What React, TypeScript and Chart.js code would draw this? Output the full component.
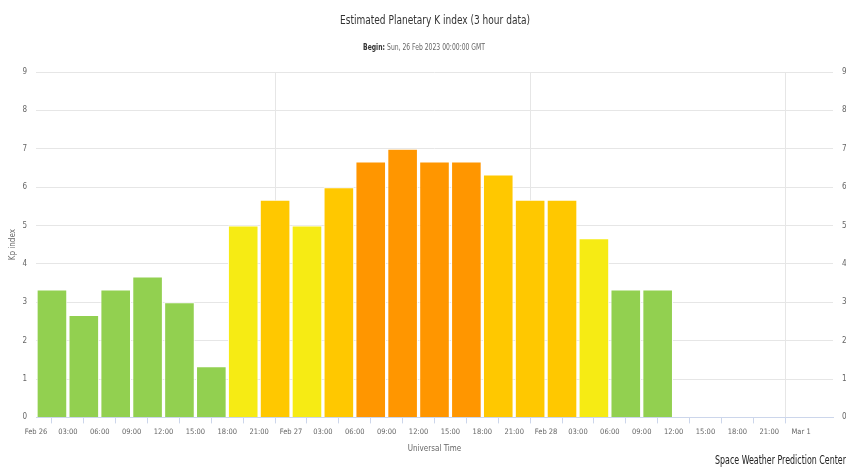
import React, { useEffect, useRef } from "react";
import { Chart, registerables } from "chart.js";

Chart.register(...registerables);

const TITLE = "Estimated Planetary K index (3 hour data)";
const SUBTITLE_BOLD = "Begin:";
const SUBTITLE_TEXT = "Sun, 26 Feb 2023 00:00:00 GMT";
const CREDITS = "Space Weather Prediction Center";
const X_TITLE = "Universal Time";
const Y_TITLE = "Kp index";

// x tick labels every 3 hours from Feb 26 00:00 to Mar 1 00:00
const xTickLabels = [
  "Feb 26", "03:00", "06:00", "09:00", "12:00", "15:00", "18:00", "21:00",
  "Feb 27", "03:00", "06:00", "09:00", "12:00", "15:00", "18:00", "21:00",
  "Feb 28", "03:00", "06:00", "09:00", "12:00", "15:00", "18:00", "21:00",
  "Mar 1",
];

// start hour (since Feb 26 00:00 UTC) of each 3-hour interval
const barStartHours = [0, 3, 6, 9, 12, 15, 18, 21, 24, 27, 30, 33, 36, 39, 42, 45, 48, 51, 54, 57];
const kpValues = [3.33, 2.67, 3.33, 3.67, 3.0, 1.33, 5.0, 5.67, 5.0, 6.0, 6.67, 7.0, 6.67, 6.67, 6.33, 5.67, 5.67, 4.67, 3.33, 3.33];

const GREEN = "#92D050";
const YELLOW = "#F6EB14";
const GOLD = "#FFC800";
const ORANGE = "#FF9600";
const barColors = [
  GREEN, GREEN, GREEN, GREEN, GREEN, GREEN,
  YELLOW, GOLD, YELLOW, GOLD, ORANGE, ORANGE, ORANGE, ORANGE, GOLD, GOLD, GOLD,
  YELLOW, GREEN, GREEN,
];

const FONT = "'DejaVu Sans', 'Open Sans', sans-serif";
const COND = "condensed";

// draw text squeezed horizontally by a factor (keeps it real text)
function drawScaled(ctx: any, text: string, left: number, y: number, font: string, sx: number, color: string) {
  ctx.save();
  ctx.font = font;
  ctx.fillStyle = color;
  ctx.textBaseline = "middle";
  ctx.textAlign = "left";
  ctx.translate(left, y);
  ctx.scale(sx, 1);
  ctx.fillText(text, 0, 0);
  ctx.restore();
}

function measure(ctx: any, text: string, font: string) {
  ctx.save();
  ctx.font = font;
  const w = ctx.measureText(text).width;
  ctx.restore();
  return w;
}

const textPlugin = {
  id: "textPlugin",
  afterDraw(chart: any) {
    const ctx = chart.ctx;
    const titleFont = `${COND} 12.5px ${FONT}`;
    const tW = measure(ctx, TITLE, titleFont);
    drawScaled(ctx, TITLE, 435 - 95, 21, titleFont, 190 / tW, "#333333");

    const boldFont = `bold ${COND} 9px ${FONT}`;
    const normFont = `${COND} 9px ${FONT}`;
    const bw = measure(ctx, SUBTITLE_BOLD + " ", boldFont);
    const nw = measure(ctx, SUBTITLE_TEXT, normFont);
    const k = 122 / (bw + nw);
    const start = 424 - 61;
    drawScaled(ctx, SUBTITLE_BOLD, start, 48, boldFont, k, "#333333");
    drawScaled(ctx, SUBTITLE_TEXT, start + bw * k, 48, normFont, k, "#666666");

    const cFont = `${COND} 12.5px ${FONT}`;
    const cW = measure(ctx, CREDITS, cFont);
    drawScaled(ctx, CREDITS, 846 - 131, 461, cFont, 131 / cW, "#222222");
  },
};

export default function App() {
  const ref = useRef<HTMLCanvasElement | null>(null);

  useEffect(() => {
    if (!ref.current) return;
    const data = barStartHours.map((h, i) => ({ x: h + 1.5, y: kpValues[i] }));
    const chart = new Chart(ref.current, {
      type: "bar",
      data: {
        datasets: [
          {
            data,
            backgroundColor: barColors,
            borderColor: "#ffffff",
            borderWidth: 1,
            barPercentage: 0.96,
            categoryPercentage: 1,
          } as any,
        ],
      },
      options: {
        animation: false,
        responsive: true,
        maintainAspectRatio: false,
        layout: { padding: { top: 72, bottom: 14, left: 0, right: 0 } },
        plugins: {
          legend: { display: false },
          tooltip: { enabled: false },
          title: { display: false },
        },
        scales: {
          x: {
            type: "linear",
            min: 0,
            max: 75,
            offset: false,
            ticks: {
              stepSize: 3,
              autoSkip: false,
              maxRotation: 0,
              color: "#666666",
              font: { family: FONT, size: 7.5, weight: COND },
              padding: 4,
              callback: (v: any) => {
                const idx = Math.round(Number(v) / 3);
                return xTickLabels[idx] ?? "";
              },
            },
            grid: {
              color: (c: any) => {
                const v = c.tick ? c.tick.value : -1;
                return v % 24 === 0 && v <= 72 ? "#e6e6e6" : "rgba(0,0,0,0)";
              },
              tickColor: (c: any) => {
                const v = c.tick ? c.tick.value : -1;
                return v <= 72 ? "#ccd6eb" : "rgba(0,0,0,0)";
              },
              tickLength: 6,
              lineWidth: 1,
            },
            border: { color: "#ccd6eb", width: 1 },
            title: {
              display: true,
              text: X_TITLE,
              color: "#666666",
              font: { family: FONT, size: 8, weight: COND },
              padding: { top: 4, bottom: 0 },
            },
          },
          y: {
            position: "left",
            min: 0,
            max: 9,
            ticks: {
              stepSize: 1,
              color: "#666666",
              font: { family: FONT, size: 8, weight: COND },
              padding: 9,
            },
            grid: { color: "#e6e6e6", drawTicks: false, lineWidth: 1 },
            border: { display: false },
            title: {
              display: true,
              text: Y_TITLE,
              color: "#666666",
              font: { family: FONT, size: 8, weight: COND },
              padding: { top: 8, bottom: 0 },
            },
            afterFit: (s: any) => { s.width = 36; },
          },
          y2: {
            position: "right",
            min: 0,
            max: 9,
            ticks: {
              stepSize: 1,
              color: "#666666",
              font: { family: FONT, size: 8, weight: COND },
              padding: 9,
            },
            grid: { display: false, drawTicks: false },
            border: { display: false },
            afterFit: (s: any) => { s.width = 13; },
          },
        },
      } as any,
      plugins: [textPlugin],
    });
    return () => chart.destroy();
  }, []);

  return (
    <div style={{ position: "fixed", left: 0, top: 0, width: 846, height: 468, background: "#fff" }}>
      <canvas ref={ref} />
    </div>
  );
}
